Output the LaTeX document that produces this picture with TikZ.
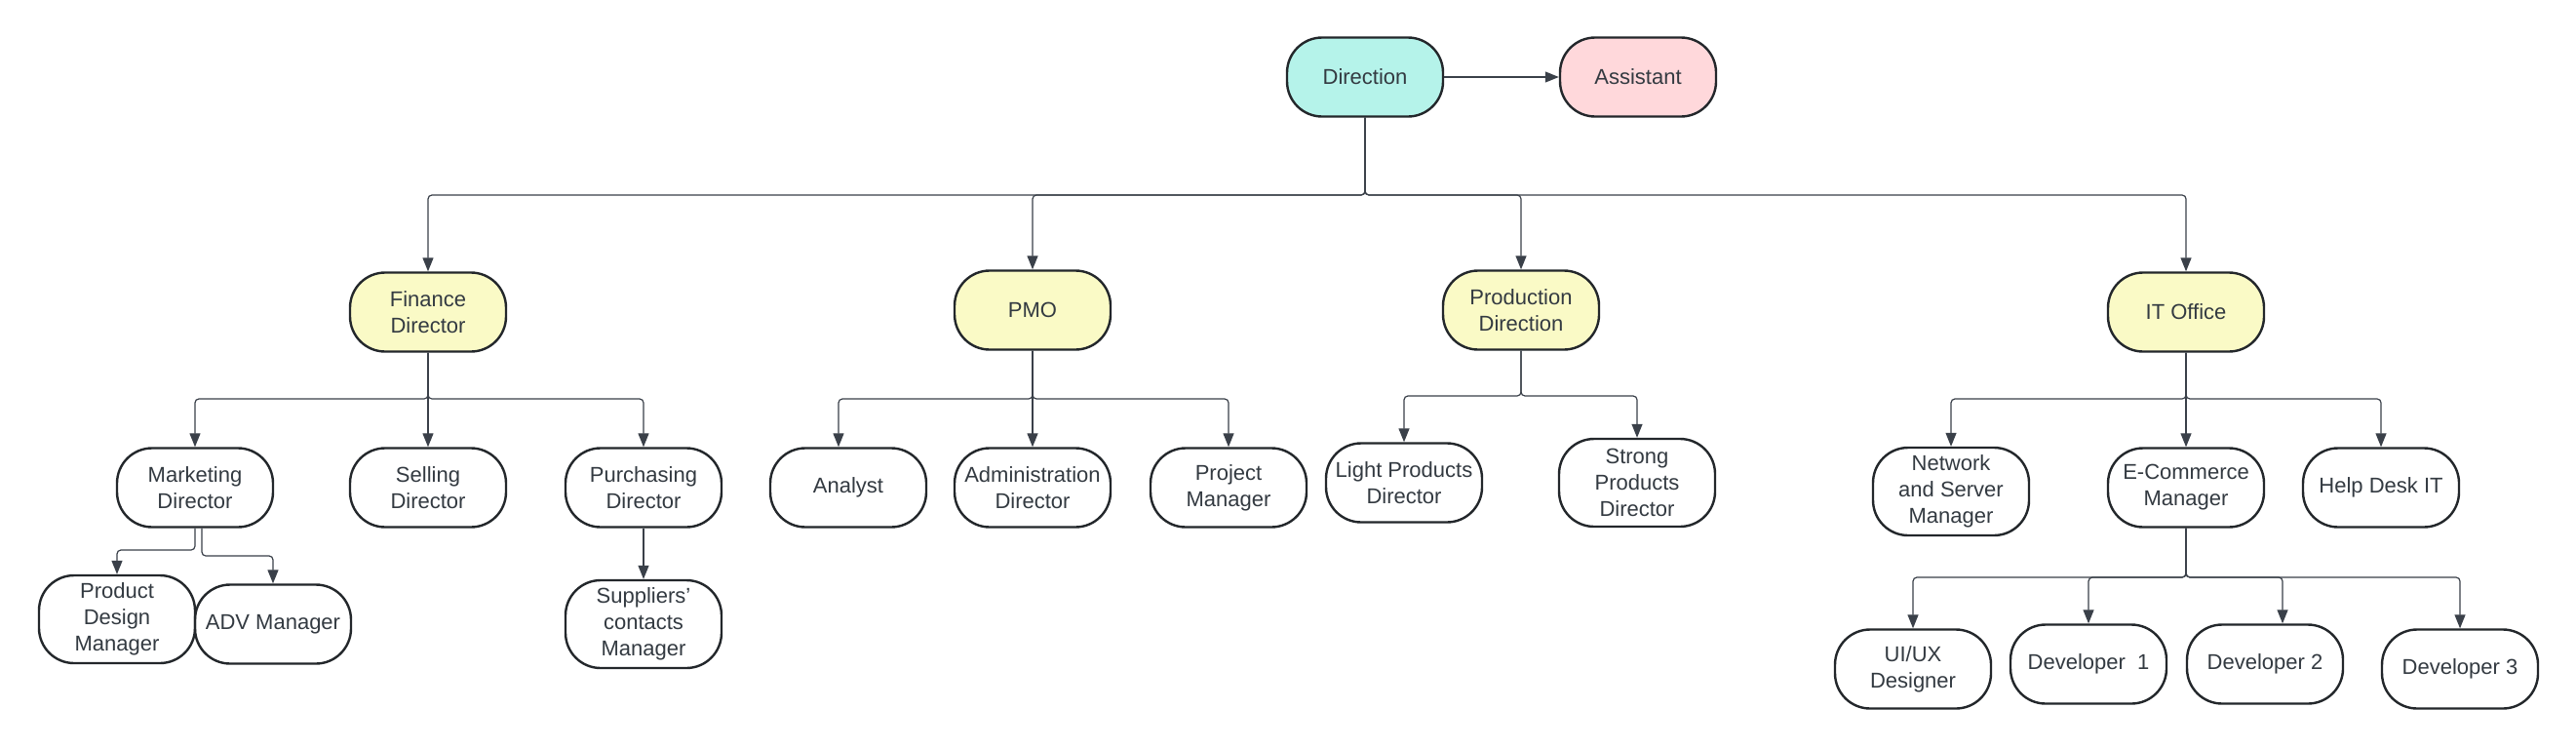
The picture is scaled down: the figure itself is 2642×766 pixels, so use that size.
\documentclass[tikz,border=0pt]{standalone}
\usepackage{fontspec}
\setmainfont{Liberation Sans}
\usetikzlibrary{arrows.meta}
\definecolor{mint}{HTML}{B5F3EA}
\definecolor{pinkf}{HTML}{FFD8DB}
\definecolor{yel}{HTML}{FAFAC6}
\definecolor{edgec}{HTML}{23272B}
\definecolor{linec}{HTML}{3A4049}
\definecolor{txt}{HTML}{333A41}
\tikzset{
 box/.style={draw=edgec, line width=1.2pt, rounded corners=18pt, minimum width=80pt, minimum height=40.5pt, align=center, font=\fontsize{11}{13.5}\selectfont, text=txt, inner sep=1pt},
 tall/.style={minimum height=45pt},
 conn/.style={draw=linec, line width=0.6pt, rounded corners=2pt, -{Triangle[length=7pt,width=5.5pt]}},
}
\begin{document}
\begin{tikzpicture}[x=0.5pt,y=-0.5pt]
\useasboundingbox[fill=white] (0,0) rectangle (2642,766);
% nodes
\node[box,fill=mint] (dir) at (1400,79) {Direction};
\node[box,fill=pinkf] (asst) at (1680,79) {Assistant};
\node[box,fill=yel] (fin) at (439,320) {Finance\\Director};
\node[box,fill=yel] (pmo) at (1059,318) {PMO};
\node[box,fill=yel] (prod) at (1560,318) {Production\\Direction};
\node[box,fill=yel] (it) at (2242,320) {IT Office};
\node[box] (mkt) at (200,500) {Marketing\\Director};
\node[box] (sell) at (439,500) {Selling\\Director};
\node[box] (purch) at (660,500) {Purchasing\\Director};
\node[box] (ana) at (870,500) {Analyst};
\node[box] (adm) at (1059,500) {Administration\\Director};
\node[box] (pm) at (1260,500) {Project\\Manager};
\node[box] (light) at (1440,495) {Light Products\\Director};
\node[box,tall] (strong) at (1679,495) {Strong\\Products\\Director};
\node[box,tall] (net) at (2001,504) {Network\\and Server\\Manager};
\node[box] (ecom) at (2242,500) {E-Commerce\\Manager};
\node[box] (help) at (2442,500) {Help Desk IT};
\node[box,tall] (pdm) at (120,635) {Product\\Design\\Manager};
\node[box] (adv) at (280,640) {ADV Manager};
\node[box,tall] (sup) at (660,640) {Suppliers'\\contacts\\Manager};
\node[box] (ui) at (1962,686) {UI/UX\\Designer};
\node[box] (d1) at (2142,681) {Developer~~1};
\node[box] (d2) at (2323,681) {Developer 2};
\node[box] (d3) at (2523,686) {Developer 3};
% branch levels
\coordinate (b0) at (0,200);
\coordinate (bf) at (0,409);
\coordinate (bp) at (0,409);
\coordinate (bpr) at (0,406);
\coordinate (bi) at (0,409);
\coordinate (bm1) at (0,564);
\coordinate (bm2) at (0,570);
\coordinate (be) at (0,592);
% connectors
\draw[conn] (dir.east) -- (asst.west);
\draw[conn] (dir.south) -- (dir.south |- b0) -| (fin.north);
\draw[conn] (dir.south) -- (dir.south |- b0) -| (pmo.north);
\draw[conn] (dir.south) -- (dir.south |- b0) -| (prod.north);
\draw[conn] (dir.south) -- (dir.south |- b0) -| (it.north);
\draw[conn] (fin.south) -- (fin.south |- bf) -| (mkt.north);
\draw[conn] (fin.south) -- (sell.north);
\draw[conn] (fin.south) -- (fin.south |- bf) -| (purch.north);
\draw[conn] (pmo.south) -- (pmo.south |- bp) -| ([xshift=-5pt]ana.north);
\draw[conn] (pmo.south) -- (adm.north);
\draw[conn] (pmo.south) -- (pmo.south |- bp) -| (pm.north);
\draw[conn] (prod.south) -- (prod.south |- bpr) -| (light.north);
\draw[conn] (prod.south) -- (prod.south |- bpr) -| (strong.north);
\draw[conn] (it.south) -- (it.south |- bi) -| (net.north);
\draw[conn] (it.south) -- (ecom.north);
\draw[conn] (it.south) -- (it.south |- bi) -| (help.north);
\draw[conn] (mkt.south) -- (mkt.south |- bm1) -| (pdm.north);
\draw[conn] ([xshift=3.5pt]mkt.south) -- ([xshift=3.5pt]mkt.south |- bm2) -| (adv.north);
\draw[conn] (purch.south) -- (sup.north);
\draw[conn] (ecom.south) -- (ecom.south |- be) -| (ui.north);
\draw[conn] (ecom.south) -- (ecom.south |- be) -| (d1.north);
\draw[conn] (ecom.south) -- (ecom.south |- be) -| ([xshift=9pt]d2.north);
\draw[conn] (ecom.south) -- (ecom.south |- be) -| (d3.north);
\end{tikzpicture}
\end{document}
